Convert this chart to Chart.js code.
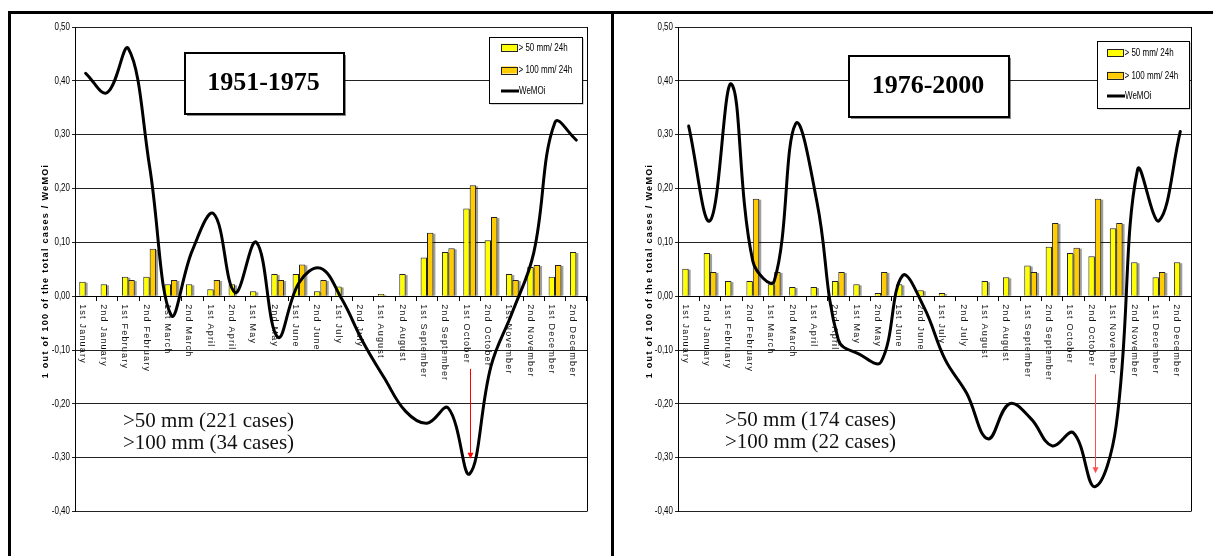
<!DOCTYPE html>
<html>
<head>
<meta charset="utf-8">
<script src="https://cdn.jsdelivr.net/npm/chart.js@4.4.1/dist/chart.umd.min.js"></script>
<style>
  html, body { margin: 0; padding: 0; background: #fff; }
  #wrap { position: relative; width: 1213px; height: 556px; overflow: hidden; background: #fff; }
  canvas { position: absolute; top: 0; }
  #c1 { left: 0; }
  #c2 { left: 606px; }
  .rule { position: absolute; background: #000; }
</style>
</head>
<body>
<div id="wrap">
  <canvas id="c1" width="606" height="556"></canvas>
  <canvas id="c2" width="607" height="556"></canvas>
  <div class="rule" style="left:8px;top:11px;width:1205px;height:3px"></div>
  <div class="rule" style="left:8px;top:11px;width:3px;height:545px"></div>
  <div class="rule" style="left:611px;top:11px;width:3px;height:545px"></div>
</div>
<script>
// Half-month periods on the category axis
const categories = [
  '1st January', '2nd January', '1st February', '2nd February',
  '1st March', '2nd March', '1st April', '2nd April',
  '1st May', '2nd May', '1st June', '2nd June',
  '1st July', '2nd July', '1st August', '2nd August',
  '1st September', '2nd September', '1st October', '2nd October',
  '1st November', '2nd November', '1st December', '2nd December'
];

// Value axis ticks
const yTickValues = [0.5, 0.4, 0.3, 0.2, 0.1, 0, -0.1, -0.2, -0.3, -0.4];
const yTickLabels = ['0,50', '0,40', '0,30', '0,20', '0,10', '0,00', '-0,10', '-0,20', '-0,30', '-0,40'];

const seriesNames = ['> 50 mm/ 24h', '> 100 mm/ 24h', 'WeMOi'];

// 1951-1975
const over50_1951 = [0.027, 0.022, 0.036, 0.036, 0.022, 0.022, 0.013, 0.022, 0.009, 0.041, 0.041, 0.009,
                     0.018, null, 0.004, 0.041, 0.072, 0.082, 0.163, 0.104, 0.041, 0.054, 0.036, 0.082];
const over100_1951 = [null, null, 0.030, 0.088, 0.030, null, 0.030, null, null, 0.030, 0.059, 0.030,
                      null, null, null, null, 0.118, 0.089, 0.206, 0.147, 0.030, 0.058, 0.058, null];
const wemoi_1951 = [0.414, 0.378, 0.460, 0.240, -0.035, 0.085, 0.153, 0.007, 0.100, -0.076, 0.025, 0.052,
                    -0.005, -0.085, -0.152, -0.214, -0.236, -0.208, -0.330, -0.130, -0.030, 0.080, 0.323, 0.290];

// 1976-2000
const over50_1976 = [0.051, 0.080, 0.028, 0.028, 0.022, 0.017, 0.017, 0.028, 0.022, 0.006, 0.022, 0.011,
                     0.006, null, 0.028, 0.035, 0.057, 0.092, 0.080, 0.074, 0.126, 0.063, 0.035, 0.063];
const over100_1976 = [null, 0.045, null, 0.181, 0.045, null, null, 0.045, null, 0.045, null, null,
                      null, null, null, null, 0.045, 0.136, 0.090, 0.181, 0.136, null, 0.045, null];
const wemoi_1976 = [0.316, 0.140, 0.394, 0.065, 0.028, 0.320, 0.175, -0.081, -0.108, -0.122, 0.038, -0.020,
                    -0.118, -0.180, -0.265, -0.200, -0.227, -0.278, -0.254, -0.354, -0.240, 0.235, 0.140, 0.306];

// Annotations
const periods = ['1951-1975', '1976-2000'];
const caseNotes_1951 = ['>50 mm (221 cases)', '>100 mm (34 cases)'];
const caseNotes_1976 = ['>50 mm (174 cases)', '>100 mm (22 cases)'];
// Arrow pointing to the minimum: [category index, start value, end value]
const arrow_1951 = [18, -0.135, -0.302];
const arrow_1976 = [19, -0.145, -0.329];

const axisTitle = '1 out of 100 of the total cases / WeMOi';

const SANS = '"Liberation Sans", Arial, sans-serif';
const SERIF = '"Liberation Serif", "Times New Roman", serif';
const CONDENSE = 0.8;   // horizontal squeeze for the narrow-type labels

function fmtTick(v) {
  const r = Math.round(v * 100) / 100;
  const i = yTickValues.findIndex(t => Math.abs(t - r) < 1e-6);
  return i >= 0 ? yTickLabels[i] : '';
}

function spaced(ctx, text, x, y, spacing) {
  if ('letterSpacing' in ctx) {
    ctx.letterSpacing = spacing + 'px';
    ctx.fillText(text, x, y);
    ctx.letterSpacing = '0px';
  } else {
    ctx.fillText(text, x, y);
  }
}

// narrow text: squeezed horizontally around its anchor
function narrowText(ctx, text, x, y) {
  ctx.save();
  ctx.translate(x, y);
  ctx.scale(CONDENSE, 1);
  ctx.fillText(text, 0, 0);
  ctx.restore();
}

function decorations(p) {
  return {
    id: 'decor',
    beforeDatasetsDraw(chart) {
      const ctx = chart.ctx, xs = chart.scales.x, ys = chart.scales.y, a = chart.chartArea;
      ctx.save();
      // right edge of the plot frame
      ctx.strokeStyle = '#000';
      ctx.lineWidth = 1;
      ctx.beginPath();
      ctx.moveTo(Math.round(a.right) + 0.5, a.top);
      ctx.lineTo(Math.round(a.right) + 0.5, a.bottom);
      ctx.stroke();

      // value tick labels
      ctx.fillStyle = '#000';
      ctx.font = '10px ' + SANS;
      ctx.textAlign = 'right';
      ctx.textBaseline = 'middle';
      yTickValues.forEach((v, k) => {
        narrowText(ctx, yTickLabels[k], a.left - 5, ys.getPixelForValue(v));
      });

      // category labels, reading downward under the zero line
      const y0 = ys.getPixelForValue(0);
      ctx.fillStyle = '#111';
      ctx.font = '9px ' + SANS;
      ctx.textAlign = 'left';
      ctx.textBaseline = 'middle';
      categories.forEach((c, i) => {
        const cx = xs.getPixelForValue(i);
        ctx.save();
        ctx.translate(cx - 3.5, y0 + 8);
        ctx.rotate(Math.PI / 2);
        spaced(ctx, c, 0, 0, 1.2);
        ctx.restore();
      });

      // bar shadows, laid under both bar series
      ctx.fillStyle = 'rgba(0,0,0,0.38)';
      chart.getSortedVisibleDatasetMetas().forEach(meta => {
        if (meta.type !== 'bar') return;
        meta.data.forEach(el => {
          if (el.skip || el.y == null || isNaN(el.y)) return;
          const top = Math.min(el.y, el.base), bot = Math.max(el.y, el.base);
          if (bot - top < 0.5) return;
          ctx.fillRect(el.x - el.width / 2 + 2, top + 1, el.width, bot - top - 1);
        });
      });
      ctx.restore();
    },
    afterDraw(chart) {
      const ctx = chart.ctx, xs = chart.scales.x, ys = chart.scales.y;
      ctx.save();

      // arrow to the deepest WeMOi value
      const ax = Math.round(xs.getPixelForValue(p.arrow[0])) + 0.5;
      const ay1 = ys.getPixelForValue(p.arrow[1]);
      const ay2 = ys.getPixelForValue(p.arrow[2]);
      ctx.strokeStyle = p.arrowColor;
      ctx.fillStyle = p.arrowColor;
      ctx.lineWidth = 1;
      ctx.beginPath();
      ctx.moveTo(ax, ay1);
      ctx.lineTo(ax, ay2 - 5);
      ctx.stroke();
      ctx.beginPath();
      ctx.moveTo(ax - 3, ay2 - 6);
      ctx.lineTo(ax + 3, ay2 - 6);
      ctx.lineTo(ax, ay2);
      ctx.closePath();
      ctx.fill();

      // period box
      const t = p.titleBox;
      ctx.fillStyle = 'rgba(0,0,0,0.45)';
      ctx.fillRect(t[0] + 2, t[1] + 2, t[2], t[3]);
      ctx.fillStyle = '#fff';
      ctx.fillRect(t[0], t[1], t[2], t[3]);
      ctx.strokeStyle = '#000';
      ctx.lineWidth = 2;
      ctx.strokeRect(t[0], t[1], t[2], t[3]);
      ctx.fillStyle = '#000';
      ctx.font = 'bold 26px ' + SERIF;
      ctx.textAlign = 'center';
      ctx.textBaseline = 'middle';
      ctx.fillText(p.period, t[0] + t[2] / 2 - 1, t[1] + t[3] / 2);

      // legend
      const L = p.legendBox;
      ctx.fillStyle = 'rgba(0,0,0,0.35)';
      ctx.fillRect(L[0] + 1.5, L[1] + 1.5, L[2], L[3]);
      ctx.fillStyle = '#fff';
      ctx.fillRect(L[0], L[1], L[2], L[3]);
      ctx.strokeStyle = '#000';
      ctx.lineWidth = 1;
      ctx.strokeRect(Math.round(L[0]) + 0.5, Math.round(L[1]) + 0.5, Math.round(L[2]), Math.round(L[3]));
      ctx.font = '10px ' + SANS;
      ctx.textAlign = 'left';
      ctx.textBaseline = 'middle';
      const sx = p.swatchX;
      const fills = chart.data.datasets.map(d => d.backgroundColor);
      p.legendRows.forEach((ry, k) => {
        if (k < 2) {
          ctx.fillStyle = fills[k];
          ctx.fillRect(sx, ry - 3.5, 16, 7);
          ctx.strokeStyle = '#222';
          ctx.lineWidth = 1;
          ctx.strokeRect(Math.round(sx) + 0.5, Math.round(ry - 3.5) + 0.5, 16, 7);
        } else {
          ctx.strokeStyle = '#000';
          ctx.lineWidth = 3;
          ctx.beginPath();
          ctx.moveTo(sx, ry);
          ctx.lineTo(sx + 18, ry);
          ctx.stroke();
          ctx.lineWidth = 1;
        }
        ctx.fillStyle = '#000';
        narrowText(ctx, seriesNames[k], sx + (k < 2 ? 17.5 : 18), ry + 0.5);
      });

      // case counts
      ctx.fillStyle = '#111';
      ctx.font = '21px ' + SERIF;
      ctx.textAlign = 'left';
      ctx.textBaseline = 'alphabetic';
      ctx.fillText(p.notes[0], p.noteX, p.noteY[0]);
      ctx.fillText(p.notes[1], p.noteX, p.noteY[1]);

      // value axis title
      ctx.save();
      ctx.translate(p.axisTitleX, 271);
      ctx.rotate(-Math.PI / 2);
      ctx.fillStyle = '#000';
      ctx.font = 'bold 9px ' + SANS;
      ctx.textAlign = 'center';
      ctx.textBaseline = 'middle';
      spaced(ctx, axisTitle, 0, 0, 1.3);
      ctx.restore();

      ctx.restore();
    }
  };
}

function panel(canvasId, p) {
  return new Chart(document.getElementById(canvasId), {
    type: 'bar',
    data: {
      labels: categories,
      datasets: [
        { label: seriesNames[0], data: p.over50, backgroundColor: '#FFFF00', borderColor: '#222',
          borderWidth: 1, borderSkipped: 'start', categoryPercentage: 0.6, barPercentage: 1.0, order: 1 },
        { label: seriesNames[1], data: p.over100, backgroundColor: '#FFCC00', borderColor: '#222',
          borderWidth: 1, borderSkipped: 'start', categoryPercentage: 0.6, barPercentage: 1.0, order: 1 },
        { type: 'line', label: seriesNames[2], data: p.wemoi, borderColor: '#000', borderWidth: 3,
          pointRadius: 0, tension: 0.4, fill: false, order: 0, borderCapStyle: 'round', borderJoinStyle: 'round' }
      ]
    },
    options: {
      responsive: false,
      animation: false,
      devicePixelRatio: 1,
      layout: { padding: { left: 0, top: 27, right: p.padRight, bottom: 44.5 } },
      plugins: { legend: { display: false }, tooltip: { enabled: false } },
      scales: {
        x: {
          position: { y: 0 },
          offset: true,
          ticks: { display: false },
          grid: { display: true, drawOnChartArea: false, drawTicks: true, tickLength: 4, color: '#000', offset: true },
          border: { display: true, color: '#000', width: 1 },
          afterFit(s) { s.height = 0; }
        },
        y: {
          min: -0.4,
          max: 0.5,
          ticks: { stepSize: 0.1, display: false, callback: v => fmtTick(v) },
          grid: { color: '#222', lineWidth: 1, drawTicks: true, tickLength: 3 },
          border: { display: true, color: '#000', width: 1 },
          afterFit(s) { s.width = p.axisW; }
        }
      }
    },
    plugins: [decorations(p)]
  });
}

panel('c1', {
  over50: over50_1951, over100: over100_1951, wemoi: wemoi_1951,
  period: periods[0], notes: caseNotes_1951, arrow: arrow_1951, arrowColor: '#ff0000',
  axisW: 75, padRight: 19,
  titleBox: [185, 53, 159, 61],
  legendBox: [489, 37, 93, 66], swatchX: 501, legendRows: [47.3, 70, 91],
  noteX: 123, noteY: [427, 449],
  axisTitleX: 46
});

panel('c2', {
  over50: over50_1976, over100: over100_1976, wemoi: wemoi_1976,
  period: periods[1], notes: caseNotes_1976, arrow: arrow_1976, arrowColor: '#ff5050',
  axisW: 72, padRight: 22,
  titleBox: [243, 56, 160, 61],
  legendBox: [491, 41, 92, 67], swatchX: 501, legendRows: [52.7, 75.3, 96],
  noteX: 119, noteY: [426, 448],
  axisTitleX: 44
});
</script>
</body>
</html>
